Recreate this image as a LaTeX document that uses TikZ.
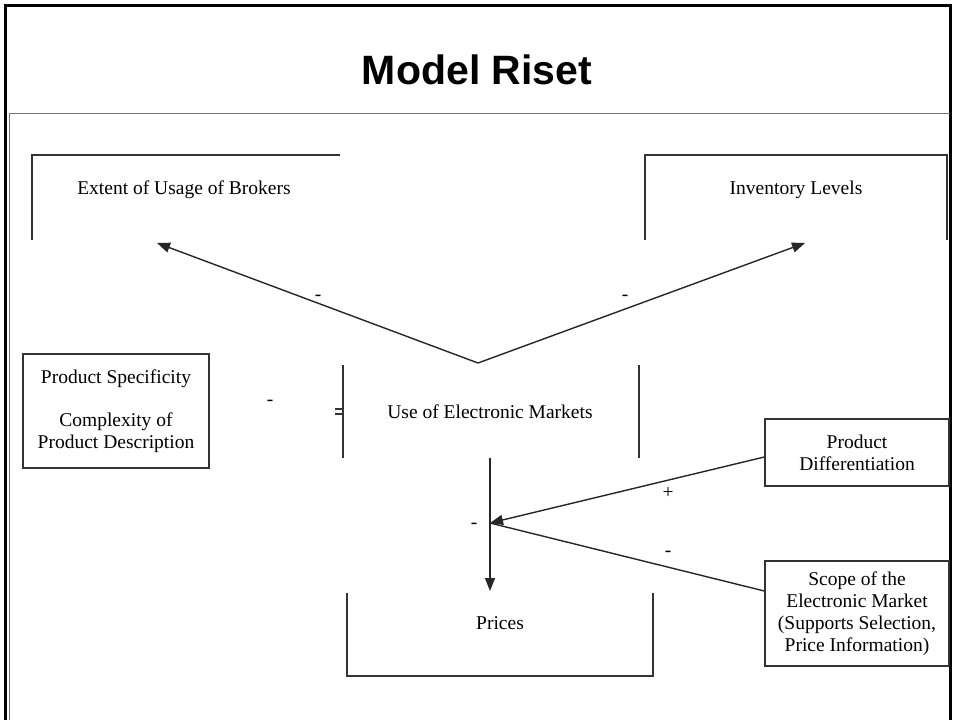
\documentclass[tikz,border=0pt]{standalone}
\usepackage{fontspec}
\setmainfont{Liberation Serif}
\newfontfamily\titlefont{Liberation Sans}
\usetikzlibrary{arrows.meta}

\begin{document}
\begin{tikzpicture}[x=1pt, y=-1pt,
    lbl/.style={font=\fontsize{19.5}{22}\selectfont, align=center, inner sep=0pt},
    box/.style={draw=black!80, line width=1.4pt},
    link/.style={black!85, line width=1.4pt},
    tip/.style={-{Triangle[length=13pt, width=10pt]}}]
    \useasboundingbox (0,0) rectangle (953,720);
    %
    \draw[line width=3pt] (5,720)--(5,5)--(950,5)--(950,720);
    \draw[black!55, line width=1pt] (9,720)--(9,113)--(950,113);
    \node[font=\titlefont\bfseries\fontsize{41}{41}\selectfont] (title) at (477,70) {Model Riset};
    %
    \node[lbl] (brokers) at (184,190) {Extent of Usage of Brokers};
    \draw[box] (32,240)--(32,155)--(340,155);
    \node[lbl] (inventory) at (796,190) {Inventory Levels};
    \draw[box] (645,240)--(645,155)--(947,155)--(947,240);
    %
    \node[lbl] (emarket) at (490,412) {Use of Electronic Markets};
    \draw[box] (343,365)--(343,458);
    \draw[box] (639,365)--(639,458);
    \draw[box, line width=1.2pt] (335,409)--(342,409);
    \draw[box, line width=1.2pt] (335,414)--(342,414);
    %
    \node[lbl, box, minimum width=186, minimum height=114] (spec) at (116,411)
        {Product Specificity\\[21pt] Complexity of\\ Product Description};
    %
    \node[lbl] (prices) at (500,623) {Prices};
    \draw[box] (347,593)--(347,676)--(653,676)--(653,593);
    %
    \node[lbl, box, minimum width=184, minimum height=67] (diff) at (857,452.5)
        {Product\\ Differentiation};
    \node[lbl, box, minimum width=184, minimum height=105] (scope) at (857,613.5)
        {Scope of the\\ Electronic Market\\ (Supports Selection,\\ Price Information)};
    %
    \coordinate (apex) at (478,363);
    \coordinate (brokersin) at (157,243);
    \coordinate (inventoryin) at (805,243);
    \coordinate (emarketout) at (490,458);
    \coordinate (pricesin) at (490,591);
    \coordinate (pivot) at (490,523);
    \draw[link, tip] (apex)--(brokersin);
    \draw[link, tip] (apex)--(inventoryin);
    \draw[link, tip] (emarketout)--(pricesin);
    \draw[link, tip] (diff.west |- 0,457)--(pivot);
    \draw[link] (scope.west |- 0,591)--(pivot);
    %
    \node[lbl] (m1) at (318,298) {-};
    \node[lbl] (m2) at (625,298) {-};
    \node[lbl] (m3) at (270,403) {-};
    \node[lbl] (m4) at (474,526) {-};
    \node[lbl] (p1) at (668,493) {+};
    \node[lbl] (m5) at (668,554) {-};
\end{tikzpicture}
\end{document}
